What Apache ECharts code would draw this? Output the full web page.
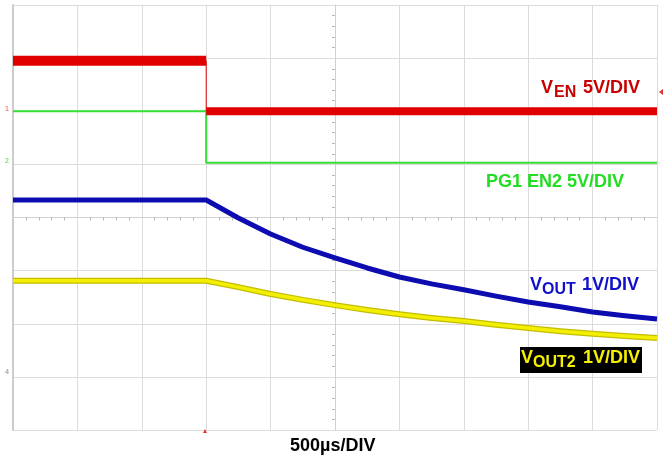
<!DOCTYPE html>
<html>
<head>
<meta charset="utf-8">
<script src="https://cdn.jsdelivr.net/npm/echarts@6/dist/echarts.min.js"></script>
<style>
  html, body { margin: 0; padding: 0; background: #fff; }
  #scope { width: 665px; height: 457px; }
</style>
</head>
<body>
<div id="scope"></div>
<script>
// time in µs (500 µs per division), levels in screen divisions (0 = bottom graticule line)
const venTimeUs = [0, 1500, 1500, 5000];
const venDiv = [6.95, 6.95, 6.0, 6.0];

const pgTimeUs = [0, 1500, 1500, 5000];
const pgDiv = [6.0, 6.0, 5.03, 5.03];

const voutTimeUs = [0, 1500, 1750, 2000, 2250, 2500, 2750, 3000, 3250, 3500, 3750, 4000, 4250, 4500, 4750, 5000];
const voutDiv = [4.33, 4.33, 3.99, 3.69, 3.44, 3.24, 3.05, 2.88, 2.75, 2.64, 2.52, 2.41, 2.32, 2.22, 2.15, 2.09];

const vout2TimeUs = [0, 1500, 1750, 2000, 2250, 2500, 2750, 3000, 3250, 3500, 3750, 4000, 4250, 4500, 4750, 5000];
const vout2Div = [2.81, 2.81, 2.69, 2.56, 2.45, 2.35, 2.26, 2.18, 2.11, 2.05, 1.98, 1.92, 1.86, 1.81, 1.77, 1.73];

const zip = (xs, ys) => xs.map((x, i) => [x, ys[i]]);

const bold = size => `bold ${size}px "Liberation Sans", Arial, sans-serif`;

function lineSeries(data, color, width, z) {
  return {
    type: "line",
    data: data,
    showSymbol: false,
    symbol: "none",
    z: z,
    lineStyle: { color: color, width: width, join: "round" },
    silent: true,
  };
}

const venPts = zip(venTimeUs, venDiv);
const pgPts = zip(pgTimeUs, pgDiv);
const voutPts = zip(voutTimeUs, voutDiv);
const vout2Pts = zip(vout2TimeUs, vout2Div);

// text pieces, positioned by bottom edge
function txt(x, y, text, size, color) {
  return {
    type: "text",
    x: x,
    y: y,
    z: 100,
    style: {
      text: text,
      font: bold(size),
      fill: color,
      textAlign: "left",
      textVerticalAlign: "bottom",
    },
  };
}

const option = {
  animation: false,
  backgroundColor: "#fff",
  grid: { left: 13, right: 8, top: 5, bottom: 27 },
  xAxis: [
    {
      type: "value",
      min: 0,
      max: 5000,
      interval: 500,
      axisLine: { show: false },
      axisTick: { show: false },
      axisLabel: { show: false },
      splitLine: { lineStyle: { color: "#dcdcdc", width: 1 } },
    },
    {
      // centre horizontal graticule line with minor ticks
      type: "value",
      min: 0,
      max: 5000,
      interval: 500,
      position: "bottom",
      offset: -212.5,
      axisLine: { show: true, lineStyle: { color: "#d0d0d0" } },
      axisTick: { show: false },
      minorTick: { show: true, splitNumber: 5, length: 3, lineStyle: { color: "#b8b8b8" } },
      axisLabel: { show: false },
      splitLine: { show: false },
    },
  ],
  yAxis: [
    {
      type: "value",
      min: 0,
      max: 8,
      interval: 1,
      axisLine: { show: true, lineStyle: { color: "#cccccc", width: 2 } },
      axisTick: { show: false },
      axisLabel: { show: false },
      splitLine: { lineStyle: { color: "#dcdcdc", width: 1 } },
    },
    {
      // centre vertical graticule line with minor ticks
      type: "value",
      min: 0,
      max: 8,
      interval: 1,
      position: "left",
      offset: -322,
      axisLine: { show: true, lineStyle: { color: "#d0d0d0" } },
      axisTick: { show: false },
      minorTick: { show: true, splitNumber: 5, length: 3, lineStyle: { color: "#b8b8b8" } },
      axisLabel: { show: false },
      splitLine: { show: false },
    },
  ],
  series: [
    lineSeries(pgPts, "#33dd33", 2, 3),
    lineSeries(venPts, "#dd0000", 1, 4),
    lineSeries(venPts.slice(0, 2), "#e00000", 10, 5),
    lineSeries(venPts.slice(2, 4), "#e00000", 8, 5),
    lineSeries(voutPts, "#0c0cb0", 5, 6),
    lineSeries(vout2Pts, "#c4bc00", 6, 6),
    lineSeries(vout2Pts, "#f2ef00", 3.5, 7),
  ],
  graphic: [
    // V_EN 5V/DIV
    txt(541, 97, "V", 18, "#c80000"),
    txt(554, 101, "EN", 16, "#c80000"),
    txt(583, 97, "5V/DIV", 18, "#c80000"),
    // PG1 EN2 5V/DIV
    txt(486, 191, "PG1 EN2 5V/DIV", 18, "#22dd22"),
    // V_OUT 1V/DIV
    txt(530, 294, "V", 18, "#1010cc"),
    txt(542, 298, "OUT", 16, "#1010cc"),
    txt(582, 294, "1V/DIV", 18, "#1010cc"),
    // V_OUT2 1V/DIV on black
    { type: "rect", z: 99, shape: { x: 520, y: 347, width: 122, height: 26 }, style: { fill: "#000" } },
    txt(521, 367, "V", 18, "#f5f000"),
    txt(533, 371, "OUT2", 16, "#f5f000"),
    txt(583, 367, "1V/DIV", 18, "#f5f000"),
    // time base
    txt(290, 455, "500µs/DIV", 18, "#000"),
    // channel / trigger markers
    txt(5, 113, "1", 7, "#ee8888"),
    txt(5, 165, "2", 7, "#88dd88"),
    txt(5, 376, "4", 7, "#aaaaaa"),
    { type: "polygon", z: 100, shape: { points: [[659, 92], [663, 89], [663, 95]] }, style: { fill: "#dd3333" } },
    { type: "polygon", z: 100, shape: { points: [[205, 429], [203, 433], [207, 433]] }, style: { fill: "#dd3333" } },
  ],
};

const chart = echarts.init(document.getElementById("scope"));
chart.setOption(option);
window.addEventListener("resize", () => chart.resize());
</script>
</body>
</html>
